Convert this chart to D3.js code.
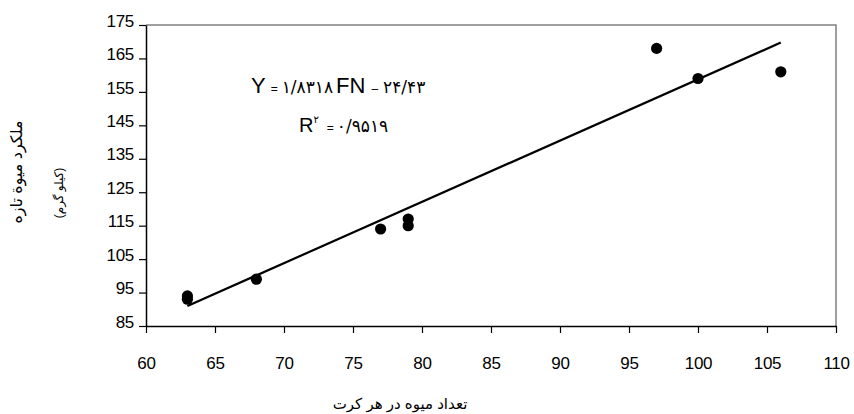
<!DOCTYPE html>
<html>
<head>
<meta charset="utf-8">
<script src="https://cdn.jsdelivr.net/npm/d3@7"></script>
<style>
  body { margin: 0; background: #fff; }
  svg text { font-family: "Liberation Sans", Arial, "DejaVu Sans", sans-serif; fill: #000; }
</style>
</head>
<body>
<div id="chart"></div>
<script>
// fruit count per plot vs fresh fruit yield
const fruitCount = [63, 63, 68, 77, 79, 79, 97, 100, 106];
const fruitYield = [94, 93, 99, 114, 115, 117, 168, 159, 161];

const xTickValues = [60, 65, 70, 75, 80, 85, 90, 95, 100, 105, 110];
const yTickValues = [85, 95, 105, 115, 125, 135, 145, 155, 165, 175];

// trendline reported on the chart
const slope = 1.8318;
const intercept = -24.43;
const rSquared = 0.9519;

const xTitle = "تعداد میوه در هر کرت";
const yTitleLines = ["ملکرد میوة تازه", "(کیلو گرم)"];

const WIDTH = 854;
const HEIGHT = 414;
const PLOT = { left: 146, right: 836, top: 25, bottom: 326 };

const _toPersian = (num) =>
  String(num)
    .replace(/\d/g, (d) => "۰۱۲۳۴۵۶۷۸۹"[d])
    .replace(".", "/");

const svg = d3
  .select("#chart")
  .append("svg")
  .attr("width", WIDTH)
  .attr("height", HEIGHT);

const x = d3
  .scaleLinear()
  .domain([xTickValues[0], xTickValues[xTickValues.length - 1]])
  .range([PLOT.left, PLOT.right]);

const y = d3
  .scaleLinear()
  .domain([yTickValues[0], yTickValues[yTickValues.length - 1]])
  .range([PLOT.bottom, PLOT.top]);

// grey frame on top and right
svg
  .append("path")
  .attr("d", `M${PLOT.left},${PLOT.top}H${PLOT.right}V${PLOT.bottom}`)
  .attr("fill", "none")
  .attr("stroke", "#808080")
  .attr("stroke-width", 1.5);

const xAxis = svg
  .append("g")
  .attr("transform", `translate(0,${PLOT.bottom})`)
  .call(
    d3.axisBottom(x).tickValues(xTickValues).tickSize(7).tickSizeOuter(0).tickPadding(24)
  );

const yAxis = svg
  .append("g")
  .attr("transform", `translate(${PLOT.left},0)`)
  .call(
    d3.axisLeft(y).tickValues(yTickValues).tickSize(7).tickSizeOuter(0).tickPadding(5)
  );

[xAxis, yAxis].forEach((axis) => {
  axis.select(".domain").attr("stroke", "#000").attr("stroke-width", 1.5);
  axis.selectAll(".tick line").attr("stroke", "#000").attr("stroke-width", 1.2);
  axis
    .selectAll(".tick text")
    .attr("font-size", 17)
    .attr("letter-spacing", -0.3)
    .attr("font-family", '"Liberation Sans", Arial, sans-serif')
    .attr("fill", "#000");
});
yAxis.selectAll(".tick text").attr("dy", "0.07em");

// regression line over the observed range
const [xMin, xMax] = d3.extent(fruitCount);
svg
  .append("line")
  .attr("x1", x(xMin))
  .attr("y1", y(slope * xMin + intercept))
  .attr("x2", x(xMax))
  .attr("y2", y(slope * xMax + intercept))
  .attr("stroke", "#000")
  .attr("stroke-width", 2.2);

svg
  .selectAll("circle.point")
  .data(fruitCount)
  .enter()
  .append("circle")
  .attr("class", "point")
  .attr("cx", (d) => x(d))
  .attr("cy", (d, i) => y(fruitYield[i]))
  .attr("r", 5.6)
  .attr("fill", "#000");

// equation label
const eq = svg.append("text").attr("x", 251).attr("y", 93);
eq.append("tspan").attr("font-size", 22).text("Y");
eq.append("tspan").attr("font-size", 12).attr("dx", 5).text("=");
eq.append("tspan").attr("font-size", 17).attr("dx", 4).attr("font-family", '"DejaVu Sans"').text(_toPersian(slope));
eq.append("tspan").attr("font-size", 22).attr("dx", 3).text("FN");
eq.append("tspan").attr("font-size", 12).attr("dx", 6).text("–");
eq.append("tspan").attr("font-size", 17).attr("dx", 5).attr("font-family", '"DejaVu Sans"').text(_toPersian(Math.abs(intercept)));

const r2 = svg.append("text").attr("x", 299).attr("y", 132);
r2.append("tspan").attr("font-size", 20).text("R");
r2.append("tspan").attr("font-size", 10).attr("dy", -9).attr("font-family", '"DejaVu Sans"').text("۲");
r2.append("tspan").attr("font-size", 12).attr("dy", 9).attr("dx", 8).text("=");
r2.append("tspan").attr("font-size", 17).attr("dx", 3).attr("font-family", '"DejaVu Sans"').text(_toPersian(rSquared));

// axis titles
svg
  .append("text")
  .attr("x", 400)
  .attr("y", 409)
  .attr("text-anchor", "middle")
  .attr("font-size", 15)
  .attr("font-family", '"DejaVu Sans", sans-serif')
  .text(xTitle);

const yTitle = svg
  .append("text")
  .attr("transform", "rotate(-90)")
  .attr("text-anchor", "middle")
  .attr("font-family", '"DejaVu Sans", sans-serif');
yTitle
  .append("tspan")
  .attr("x", -172)
  .attr("y", 22)
  .attr("font-size", 16)
  .text(yTitleLines[0]);
yTitle
  .append("tspan")
  .attr("x", -193)
  .attr("y", 63)
  .attr("font-size", 12)
  .text(yTitleLines[1]);
</script>
</body>
</html>
